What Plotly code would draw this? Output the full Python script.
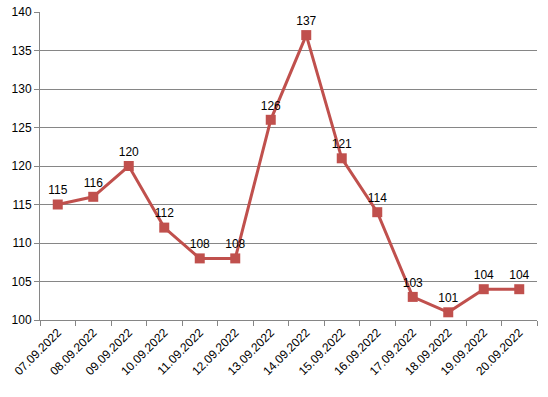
import plotly.graph_objects as go

dates = ["07.09.2022", "08.09.2022", "09.09.2022", "10.09.2022", "11.09.2022",
         "12.09.2022", "13.09.2022", "14.09.2022", "15.09.2022", "16.09.2022",
         "17.09.2022", "18.09.2022", "19.09.2022", "20.09.2022"]
values = [115, 116, 120, 112, 108, 108, 126, 137, 121, 114, 103, 101, 104, 104]

color = "#C0504D"
font = "Liberation Sans, Arial, sans-serif"

fig = go.Figure(go.Scatter(
    x=dates, y=values, mode="lines+markers+text",
    line=dict(color=color, width=3),
    marker=dict(symbol="square", size=10, color=color),
    text=[str(v) for v in values], textposition="top center",
    textfont=dict(family=font, size=12, color="black"),
    cliponaxis=False,
))

fig.update_layout(
    width=548, height=397,
    margin=dict(l=40, r=11, t=12, b=77),
    paper_bgcolor="white", plot_bgcolor="white",
    showlegend=False,
    font=dict(family=font, size=12, color="black"),
)
fig.update_xaxes(
    type="category", range=[-0.5, 13.5], automargin=False,
    showgrid=False, showline=True, linecolor="#868686", linewidth=1,
    ticks="outside", tickson="boundaries", ticklen=5, tickcolor="#868686",
    tickangle=-45, tickfont=dict(size=12),
)
fig.update_yaxes(
    range=[100, 140], dtick=5, automargin=False,
    showgrid=True, gridcolor="#868686", gridwidth=1,
    showline=True, linecolor="#868686", linewidth=1,
    ticks="outside", ticklen=5, tickcolor="#868686",
    tickfont=dict(size=12), zeroline=False,
)

fig.write_html("out.html", config={"displayModeBar": False},
               post_script="document.body.style.margin='0';document.body.style.overflow='hidden';")
